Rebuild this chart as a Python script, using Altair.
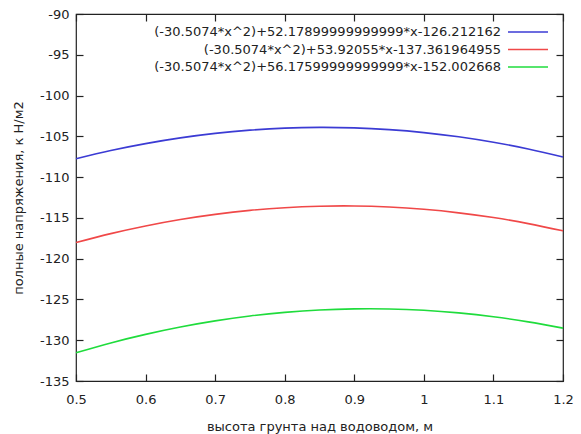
import altair as alt
import pandas as pd

# values (heights, m)
x_vals = [0.50, 0.55, 0.60, 0.65, 0.70, 0.75, 0.80, 0.85, 0.90, 0.95, 1.00, 1.05, 1.10, 1.15, 1.20]
blue_vals = [-107.75, -106.74, -105.89, -105.19, -104.64, -104.24, -103.99, -103.90,
             -103.96, -104.18, -104.54, -105.06, -105.73, -106.55, -107.53]
red_vals = [-118.03, -116.93, -115.99, -115.20, -114.57, -114.08, -113.75, -113.57,
            -113.54, -113.67, -113.95, -114.38, -114.96, -115.70, -116.59]
green_vals = [-131.54, -130.33, -129.28, -128.38, -127.63, -127.03, -126.59, -126.29,
              -126.16, -126.17, -126.33, -126.65, -127.12, -127.75, -128.52]

labels = [
    "(-30.5074*x^2)+52.17899999999999*x-126.212162",
    "(-30.5074*x^2)+53.92055*x-137.361964955",
    "(-30.5074*x^2)+56.17599999999999*x-152.002668",
]
colors = ["#3b3bd4", "#f04848", "#1fdc3c"]
x_ticks = [0.5, 0.6, 0.7, 0.8, 0.9, 1.0, 1.1, 1.2]
y_ticks = [-135, -130, -125, -120, -115, -110, -105, -100, -95, -90]

rows = []
for lab, ys in zip(labels, [blue_vals, red_vals, green_vals]):
    for xv, yv in zip(x_vals, ys):
        rows.append({"x": xv, "y": yv, "series": lab})
df = pd.DataFrame(rows)
leg = pd.DataFrame({"series": labels})

FONT = "DejaVu Sans"
TXT = "#222222"

xscale = alt.Scale(domain=[0.5, 1.2], nice=False, zero=False)
yscale = alt.Scale(domain=[-135, -90], nice=False, zero=False)
cscale = alt.Scale(domain=labels, range=colors)

base = alt.Chart(df)

lines = base.mark_line(strokeWidth=1.6, interpolate="natural").encode(
    x=alt.X("x:Q", scale=xscale,
            axis=alt.Axis(orient="bottom", values=x_ticks, labelExpr="'' + datum.value",
                          domain=False, ticks=False, labelFlush=False,
                          grid=False, labelPadding=12, title="высота грунта над водоводом, м",
                          titlePadding=14)),
    y=alt.Y("y:Q", scale=yscale,
            axis=alt.Axis(orient="left", values=y_ticks, labelExpr="'' + datum.value",
                          domain=False, ticks=False, grid=False, labelFlush=False,
                          labelPadding=7, title="полные напряжения, к Н/м2", titlePadding=14)),
    color=alt.Color("series:N", scale=cscale, legend=None),
    detail="series:N",
)

tick_axis = dict(domain=False, labels=False, ticks=True, tickSize=7, grid=False, title=None,
                 offset=-7, tickColor=TXT, tickWidth=1.2)

ticks_a = base.mark_line(opacity=0).encode(
    x=alt.X("x:Q", scale=xscale, axis=alt.Axis(orient="bottom", values=x_ticks, **tick_axis)),
    y=alt.Y("y:Q", scale=yscale, axis=alt.Axis(orient="left", values=y_ticks, **tick_axis)),
    detail="series:N",
)
ticks_b = base.mark_line(opacity=0).encode(
    x=alt.X("x:Q", scale=xscale, axis=alt.Axis(orient="top", values=x_ticks, **tick_axis)),
    y=alt.Y("y:Q", scale=yscale, axis=alt.Axis(orient="right", values=y_ticks, **tick_axis)),
    detail="series:N",
)

leg_y = alt.Y("series:N", sort=labels, scale=alt.Scale(type="point", range=[18, 53], padding=0),
              axis=None)

leg_text = alt.Chart(leg).mark_text(align="right", baseline="middle", font=FONT, fontSize=13,
                                    color=TXT).encode(
    x=alt.value(425), y=leg_y, text="series:N"
)
leg_rule = alt.Chart(leg).mark_rule(strokeWidth=1.6).encode(
    x=alt.value(432), x2=alt.value(472), y=leg_y,
    color=alt.Color("series:N", scale=cscale, legend=None),
)

chart = alt.layer(lines, ticks_a, ticks_b, leg_text, leg_rule).resolve_axis(
    x="independent", y="independent"
).resolve_scale(y="independent").properties(
    width=487, height=367,
    padding={"left": 76, "top": 14, "right": 18, "bottom": 53},
    autosize=alt.AutoSizeParams(type="none"),
    background="white",
).configure_view(stroke=TXT, strokeWidth=1.2).configure_axis(
    labelFont=FONT, labelFontSize=13, labelColor=TXT,
    titleFont=FONT, titleFontSize=13, titleFontWeight="normal", titleColor=TXT,
)

chart.save("out.html", embed_options={"renderer": "svg", "actions": False})
